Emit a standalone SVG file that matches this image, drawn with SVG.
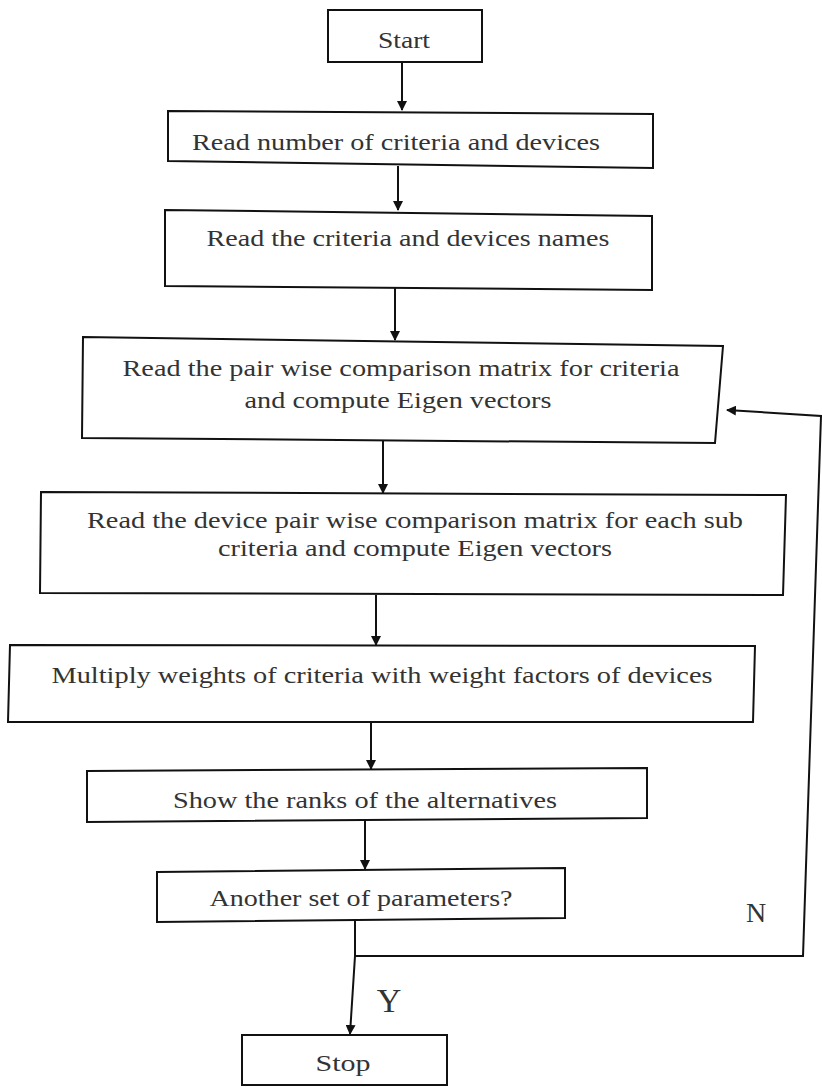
<svg xmlns="http://www.w3.org/2000/svg" width="822" height="1087" viewBox="0 0 822 1087">
<defs>
<style>
.box{fill:#fff;stroke:#111;stroke-width:2}
.t{font-family:"Liberation Serif","Times New Roman",serif;font-size:24px;fill:#333;text-anchor:middle;dominant-baseline:central}
.c{fill:none;stroke:#111;stroke-width:2}
.lbl{font-family:"Liberation Serif","Times New Roman",serif;fill:#333;text-anchor:middle;dominant-baseline:central}
</style>
<marker id="ah" markerWidth="10" markerHeight="10" refX="9" refY="5" orient="auto" markerUnits="userSpaceOnUse">
<path d="M0,0 L10,5 L0,10 Z" fill="#111"/>
</marker>
</defs>
<rect width="822" height="1087" fill="#fff"/>
<g id="connectors">
<line class="c" x1="402" y1="62" x2="402" y2="110" marker-end="url(#ah)"/>
<line class="c" x1="398" y1="166" x2="398" y2="210" marker-end="url(#ah)"/>
<line class="c" x1="395" y1="288" x2="395" y2="340" marker-end="url(#ah)"/>
<line class="c" x1="383" y1="441" x2="383" y2="493" marker-end="url(#ah)"/>
<line class="c" x1="376" y1="595" x2="376" y2="645" marker-end="url(#ah)"/>
<line class="c" x1="371" y1="722" x2="371" y2="769" marker-end="url(#ah)"/>
<line class="c" x1="365" y1="820" x2="365" y2="869" marker-end="url(#ah)"/>
<polyline class="c" points="355,920 355,956 350,1034" marker-end="url(#ah)"/>
<polyline class="c" points="355,956 803,956 821,416 727,410" marker-end="url(#ah)"/>
</g>
<g id="start"><polygon class="box" points="328,10 482,10 482,62 328,62"/><text class="t" x="404" y="40" textLength="52" lengthAdjust="spacingAndGlyphs">Start</text></g>
<g id="read-number"><polygon class="box" points="168,111 653,114 653,168 168,161"/><text class="t" x="396" y="142" textLength="408" lengthAdjust="spacingAndGlyphs">Read number of criteria and devices</text></g>
<g id="read-names"><polygon class="box" points="165,210 652,216 652,290 165,286"/><text class="t" x="408" y="238" textLength="403" lengthAdjust="spacingAndGlyphs">Read the criteria and devices names</text></g>
<g id="criteria-matrix"><polygon class="box" points="83,337 723,346 715,443 82,438"/><text class="t" x="401" y="368" textLength="557" lengthAdjust="spacingAndGlyphs">Read the pair wise comparison matrix for criteria</text><text class="t" x="398" y="400" textLength="307" lengthAdjust="spacingAndGlyphs">and compute Eigen vectors</text></g>
<g id="device-matrix"><polygon class="box" points="41,492 786,495 783,595 40,593"/><text class="t" x="415" y="520" textLength="656" lengthAdjust="spacingAndGlyphs">Read the device pair wise comparison matrix for each sub</text><text class="t" x="415" y="548" textLength="394" lengthAdjust="spacingAndGlyphs">criteria and compute Eigen vectors</text></g>
<g id="multiply"><polygon class="box" points="10,645 755,646 753,722 8,722"/><text class="t" x="382" y="675" textLength="661" lengthAdjust="spacingAndGlyphs">Multiply weights of criteria with weight factors of devices</text></g>
<g id="show-ranks"><polygon class="box" points="87,771 647,768 647,818 87,822"/><text class="t" x="365" y="800" textLength="384" lengthAdjust="spacingAndGlyphs">Show the ranks of the alternatives</text></g>
<g id="another-set"><polygon class="box" points="157,872 565,868 565,918 157,922"/><text class="t" x="361" y="898" textLength="303" lengthAdjust="spacingAndGlyphs">Another set of parameters?</text></g>
<g id="stop"><polygon class="box" points="242,1035 447,1035 447,1085 242,1085"/><text class="t" x="343" y="1063" textLength="55" lengthAdjust="spacingAndGlyphs">Stop</text></g>
<text class="lbl" x="389" y="1000" font-size="34">Y</text>
<text class="lbl" x="756" y="912" font-size="28">N</text>
</svg>
